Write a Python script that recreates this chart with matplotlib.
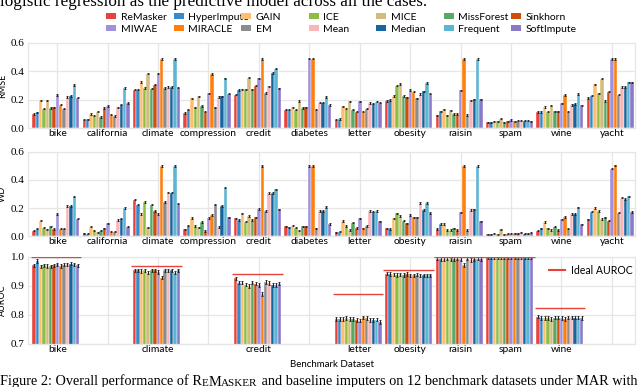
import numpy as np
import matplotlib
matplotlib.use("Agg")
import matplotlib.pyplot as plt
from matplotlib.patches import Patch
from matplotlib.lines import Line2D
from matplotlib.transforms import offset_copy

## data
datasets = ["bike", "california", "climate", "compression", "credit", "diabetes",
            "letter", "obesity", "raisin", "spam", "wine", "yacht"]
methods = ["ReMasker", "HyperImpute", "GAIN", "ICE", "MICE", "MissForest", "Sinkhorn",
           "MIWAE", "MIRACLE", "EM", "Mean", "Median", "Frequent", "SoftImpute"]
colors = ["#e8433a", "#3a89c9", "#fdbf6f", "#8dbd45", "#d2bb7c", "#5aa867", "#cf4e0c",
          "#a290da", "#ff7f0e", "#8c8c8c", "#f7b6b9", "#17659f", "#5cb5d2", "#8a78c8"]

# rows = datasets, columns = methods
rmse = [
    [0.099, 0.110, 0.195, 0.136, 0.195, 0.140, 0.145, 0.233, 0.165, 0.137, 0.220, 0.226, 0.303, 0.214],  # bike
    [0.060, 0.062, 0.100, 0.087, 0.115, 0.078, 0.140, 0.155, 0.094, 0.085, 0.146, 0.165, 0.282, 0.176],  # california
    [0.270, 0.270, 0.325, 0.282, 0.384, 0.278, 0.306, 0.384, 0.487, 0.282, 0.290, 0.290, 0.487, 0.285],  # climate
    [0.106, 0.130, 0.210, 0.146, 0.224, 0.155, 0.115, 0.245, 0.380, 0.146, 0.220, 0.224, 0.350, 0.242],  # compression
    [0.235, 0.268, 0.273, 0.273, 0.355, 0.273, 0.300, 0.350, 0.487, 0.247, 0.294, 0.388, 0.420, 0.280],  # credit
    [0.130, 0.130, 0.145, 0.130, 0.190, 0.140, 0.145, 0.490, 0.490, 0.130, 0.180, 0.180, 0.218, 0.162],  # diabetes
    [0.060, 0.064, 0.153, 0.137, 0.188, 0.130, 0.115, 0.188, 0.115, 0.137, 0.176, 0.172, 0.186, 0.180],  # letter
    [0.190, 0.198, 0.226, 0.300, 0.310, 0.226, 0.216, 0.268, 0.256, 0.210, 0.240, 0.259, 0.318, 0.242],  # obesity
    [0.090, 0.118, 0.132, 0.090, 0.125, 0.099, 0.099, 0.266, 0.487, 0.092, 0.195, 0.202, 0.487, 0.202],  # raisin
    [0.040, 0.040, 0.047, 0.047, 0.066, 0.040, 0.047, 0.056, 0.047, 0.052, 0.052, 0.052, 0.052, 0.047],  # spam
    [0.112, 0.112, 0.148, 0.116, 0.158, 0.118, 0.118, 0.173, 0.233, 0.116, 0.163, 0.170, 0.241, 0.160],  # wine
    [0.212, 0.228, 0.308, 0.245, 0.348, 0.190, 0.256, 0.488, 0.488, 0.235, 0.290, 0.288, 0.322, 0.322],  # yacht
]
wd = [
    [0.038, 0.052, 0.110, 0.060, 0.047, 0.070, 0.050, 0.156, 0.052, 0.052, 0.215, 0.215, 0.280, 0.123],  # bike
    [0.020, 0.017, 0.066, 0.038, 0.026, 0.038, 0.055, 0.090, 0.031, 0.031, 0.114, 0.123, 0.200, 0.066],  # california
    [0.260, 0.225, 0.156, 0.242, 0.062, 0.225, 0.180, 0.156, 0.500, 0.242, 0.310, 0.310, 0.500, 0.232],  # climate
    [0.047, 0.073, 0.130, 0.071, 0.062, 0.100, 0.036, 0.128, 0.150, 0.225, 0.065, 0.213, 0.346, 0.133],  # compression
    [0.126, 0.114, 0.161, 0.102, 0.142, 0.114, 0.133, 0.192, 0.500, 0.180, 0.308, 0.308, 0.334, 0.190],  # credit
    [0.070, 0.062, 0.073, 0.060, 0.038, 0.069, 0.069, 0.500, 0.500, 0.055, 0.178, 0.178, 0.208, 0.085],  # diabetes
    [0.026, 0.031, 0.107, 0.071, 0.043, 0.095, 0.057, 0.126, 0.055, 0.071, 0.178, 0.173, 0.178, 0.104],  # letter
    [0.055, 0.050, 0.126, 0.161, 0.142, 0.109, 0.090, 0.149, 0.133, 0.133, 0.237, 0.185, 0.237, 0.164],  # obesity
    [0.050, 0.085, 0.085, 0.043, 0.043, 0.055, 0.043, 0.170, 0.500, 0.043, 0.187, 0.190, 0.500, 0.104],  # raisin
    [0.012, 0.012, 0.019, 0.012, 0.047, 0.012, 0.017, 0.017, 0.019, 0.019, 0.026, 0.017, 0.019, 0.024],  # spam
    [0.038, 0.055, 0.100, 0.055, 0.043, 0.066, 0.043, 0.118, 0.137, 0.052, 0.156, 0.156, 0.204, 0.083],  # wine
    [0.118, 0.173, 0.200, 0.180, 0.121, 0.133, 0.109, 0.481, 0.505, 0.166, 0.273, 0.263, 0.284, 0.171],  # yacht
]

auroc_datasets = ["bike", "climate", "credit", "letter", "obesity", "raisin", "spam", "wine"]
auroc = [
    [0.971, 0.986, 0.968, 0.971, 0.969, 0.968, 0.971, 0.975, 0.969, 0.974, 0.975, 0.977, 0.975, 0.971],  # bike
    [0.954, 0.954, 0.952, 0.954, 0.946, 0.954, 0.954, 0.948, 0.929, 0.954, 0.954, 0.954, 0.946, 0.954],  # climate
    [0.926, 0.912, 0.912, 0.905, 0.900, 0.912, 0.908, 0.903, 0.872, 0.914, 0.911, 0.903, 0.903, 0.908],  # credit
    [0.787, 0.786, 0.787, 0.789, 0.786, 0.787, 0.783, 0.781, 0.792, 0.789, 0.783, 0.783, 0.784, 0.776],  # letter
    [0.943, 0.942, 0.940, 0.938, 0.940, 0.938, 0.941, 0.937, 0.937, 0.939, 0.937, 0.937, 0.937, 0.937],  # obesity
    [0.994, 0.993, 0.993, 0.994, 0.992, 0.993, 0.994, 0.993, 0.972, 0.994, 0.990, 0.993, 0.994, 0.993],  # raisin
    [0.999, 0.999, 0.999, 0.999, 0.999, 0.999, 0.999, 0.999, 0.999, 0.999, 0.999, 0.999, 0.999, 0.999],  # spam
    [0.794, 0.790, 0.789, 0.790, 0.787, 0.791, 0.791, 0.790, 0.786, 0.791, 0.792, 0.791, 0.791, 0.789],  # wine
]
ideal_auroc = [1.0, 0.970, 0.940, 0.871, 0.954, 1.0, 1.0, 0.825]

## style
serif = "Liberation Serif"
sans = "Lato"
grid_c = "#e6e6e6"

W, H = 640, 387
fig = plt.figure(figsize=(6.4, 3.87), dpi=100)

def frac_axes(top_px, bot_px, left_px=28, right_px=635):
    return fig.add_axes([left_px / W, 1 - bot_px / H, (right_px - left_px) / W, (bot_px - top_px) / H])

ax1 = frac_axes(43, 128)
ax2 = frac_axes(152, 236)
ax3 = frac_axes(257, 344)

pitch = 0.0667
x = np.arange(len(datasets))

def draw_bars(ax, xpos, values, err):
    vals = np.array(values)
    for j in range(len(methods)):
        ax.bar(xpos + (j - 6.5) * pitch - 0.03, vals[:, j], width=pitch,
               color=colors[j], edgecolor="white", linewidth=0.3, zorder=2,
               yerr=err, error_kw=dict(ecolor="#222222", elinewidth=0.8, capsize=0.8, capthick=0.6))

def style_axes(ax, ylabel):
    ax.set_xlim(-0.58, 11.46)
    ax.set_xticks(x)
    ax.grid(True, color=grid_c, linewidth=0.9, zorder=0)
    ax.set_axisbelow(True)
    for s in ax.spines.values():
        s.set_color(grid_c)
        s.set_linewidth(0.9)
    ax.tick_params(axis="x", length=0, pad=1)
    ax.tick_params(axis="y", length=0, pad=2.5)
    for lab in ax.get_yticklabels():
        lab.set_fontfamily(serif)
        lab.set_fontsize(8)
    ax.set_ylabel(ylabel, fontfamily=sans, fontsize=6.5)
    ax.yaxis.set_label_coords(-0.0346, 0.5)

ticks06 = [0.0, 0.2, 0.4, 0.6]

draw_bars(ax1, x, rmse, 0.005)
ax1.set_ylim(0, 0.6)
ax1.set_yticks(ticks06)
ax1.set_yticklabels(["0.0", "0.2", "0.4", "0.6"])
ax1.set_xticklabels(datasets, fontfamily=sans, fontsize=7.4)
style_axes(ax1, "RMSE")

draw_bars(ax2, x, wd, 0.005)
ax2.set_ylim(0, 0.6)
ax2.set_yticks(ticks06)
ax2.set_yticklabels(["0.0", "0.2", "0.4", "0.6"])
ax2.set_xticklabels(datasets, fontfamily=sans, fontsize=7.4)
style_axes(ax2, "WD")

xa = np.array([datasets.index(d) for d in auroc_datasets])
draw_bars(ax3, xa, auroc, 0.006)
ax3.hlines(ideal_auroc, xa - 0.53, xa + 0.47, color="#e8433a", linewidth=1.0, zorder=3)
ax3.set_ylim(0.7, 1.0)
ax3.set_yticks([0.7, 0.8, 0.9, 1.0])
ax3.set_yticklabels(["0.7", "0.8", "0.9", "1.0"])
ax3.set_xticklabels([d if d in auroc_datasets else "" for d in datasets], fontfamily=sans, fontsize=7.4)
style_axes(ax3, "AUROC")
ax3.set_xlabel("Benchmark Dataset", fontfamily=sans, fontsize=7, labelpad=4)
ax3.legend(handles=[Line2D([], [], color="#e8433a", lw=1.5)], labels=["Ideal AUROC"],
           loc="upper right", bbox_to_anchor=(1.004, 0.96), frameon=False,
           prop=dict(family=sans, size=7.6), handlelength=1.5, handletextpad=0.6, borderaxespad=0)

# method legend: 7 columns of 2 rows, evenly spaced
handles = [Patch(facecolor=c) for c in colors]
for c in range(7):
    fig.legend(handles=[handles[c], handles[c + 7]], labels=[methods[c], methods[c + 7]],
               loc="upper left", bbox_to_anchor=((106 + 67.5 * c) / W, 1 - 13 / H),
               frameon=False, prop=dict(family=sans, size=7.5), handlelength=1.0,
               handleheight=0.45, handletextpad=0.4, labelspacing=0.25,
               borderpad=0, borderaxespad=0)

# surrounding caption text from the page
fig.text(0.0, 1 - 6 / H, "logistic regression as the predictive model across all the cases.",
         fontfamily=serif, fontsize=12.3, va="baseline", ha="left")

# bottom caption, REMASKER in small caps
cap_parts = [("Figure 2: Overall performance of R", 10.3), ("E", 8.0), ("M", 10.3), ("ASKER", 8.0),
             (" and baseline imputers on 12 benchmark datasets under MAR with", 10.3)]
renderer = fig.canvas.get_renderer()
xoff = 0.0
for txt, size in cap_parts:
    t = fig.text(0.0, 1.5 / H, txt, fontfamily=serif, fontsize=size, va="baseline", ha="left",
                 transform=offset_copy(fig.transFigure, fig=fig, x=xoff, y=0, units="dots"))
    xoff += t.get_window_extent(renderer).width

plt.savefig("out.png", dpi=100)
